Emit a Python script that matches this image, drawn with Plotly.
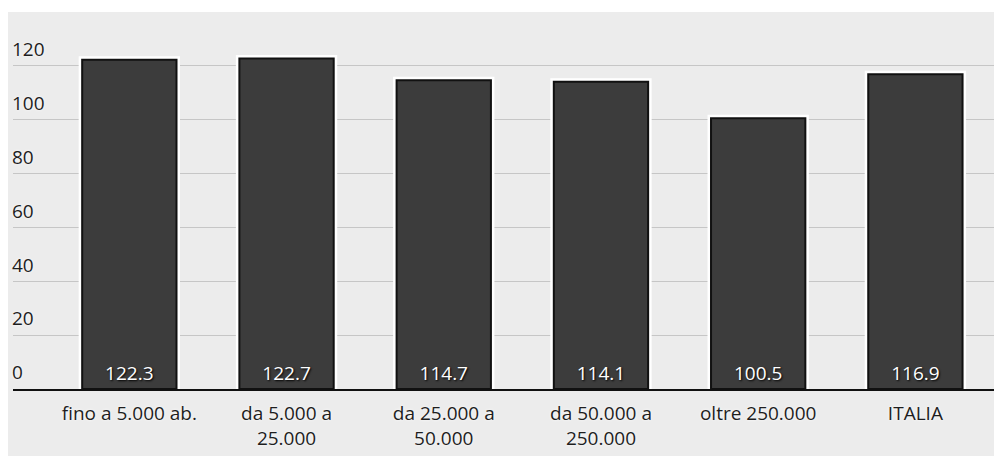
import plotly.graph_objects as go

# Categories (population classes) and index values
categories = ["fino a 5.000 ab.", "da 5.000 a<br>25.000", "da 25.000 a<br>50.000",
              "da 50.000 a<br>250.000", "oltre 250.000", "ITALIA"]
values = [122.3, 122.7, 114.7, 114.1, 100.5, 116.9]
y_ticks = [0, 20, 40, 60, 80, 100, 120]

FONT = "Open Sans"
PANEL = "#ececec"
BAR = "#3c3c3c"

fig = go.Figure()

# White halo behind each bar
fig.add_trace(go.Bar(
    x=categories, y=values,
    marker=dict(color="white", line=dict(color="white", width=7)),
    hoverinfo="skip", showlegend=False,
))

# Dark bars with value labels at the base
fig.add_trace(go.Bar(
    x=categories, y=values,
    marker=dict(color=BAR, line=dict(color="#111111", width=2)),
    text=[f"{v:.1f}" for v in values],
    textposition="inside", insidetextanchor="start",
    textfont=dict(family=FONT, size=19, color="white", shadow="1px 1px 2px #000"),
    cliponaxis=False, showlegend=False,
))

fig.update_layout(
    width=994, height=457,
    margin=dict(l=13, r=0, t=12, b=68),
    paper_bgcolor="white", plot_bgcolor=PANEL,
    barmode="overlay", bargap=0.4,
    font=dict(family=FONT, color="#1e1e1e"),
    shapes=[dict(type="rect", xref="paper", yref="paper",
                 x0=-5 / 981, x1=1.0, y0=-67 / 377, y1=1.0,
                 fillcolor=PANEL, line=dict(width=0), layer="below")],
)

fig.update_xaxes(
    range=[-0.74, 5.5], showgrid=False, zeroline=False,
    showline=True, linecolor="#111111", linewidth=2,
    ticks="", tickfont=dict(size=19, color="#1e1e1e", shadow="0 0 3px #ffffff"),
    ticklabelstandoff=6,
)
fig.update_yaxes(
    range=[0, 140], tickvals=y_ticks, showgrid=True, gridcolor="#c6c6c6", gridwidth=1,
    zeroline=False, showline=False, ticks="",
    ticklabelposition="inside top", ticklabelstandoff=-4, ticklabelshift=-3,
    tickfont=dict(size=19, color="#1e1e1e", shadow="0 0 3px #ffffff"),
)

fig.write_html("out.html")
